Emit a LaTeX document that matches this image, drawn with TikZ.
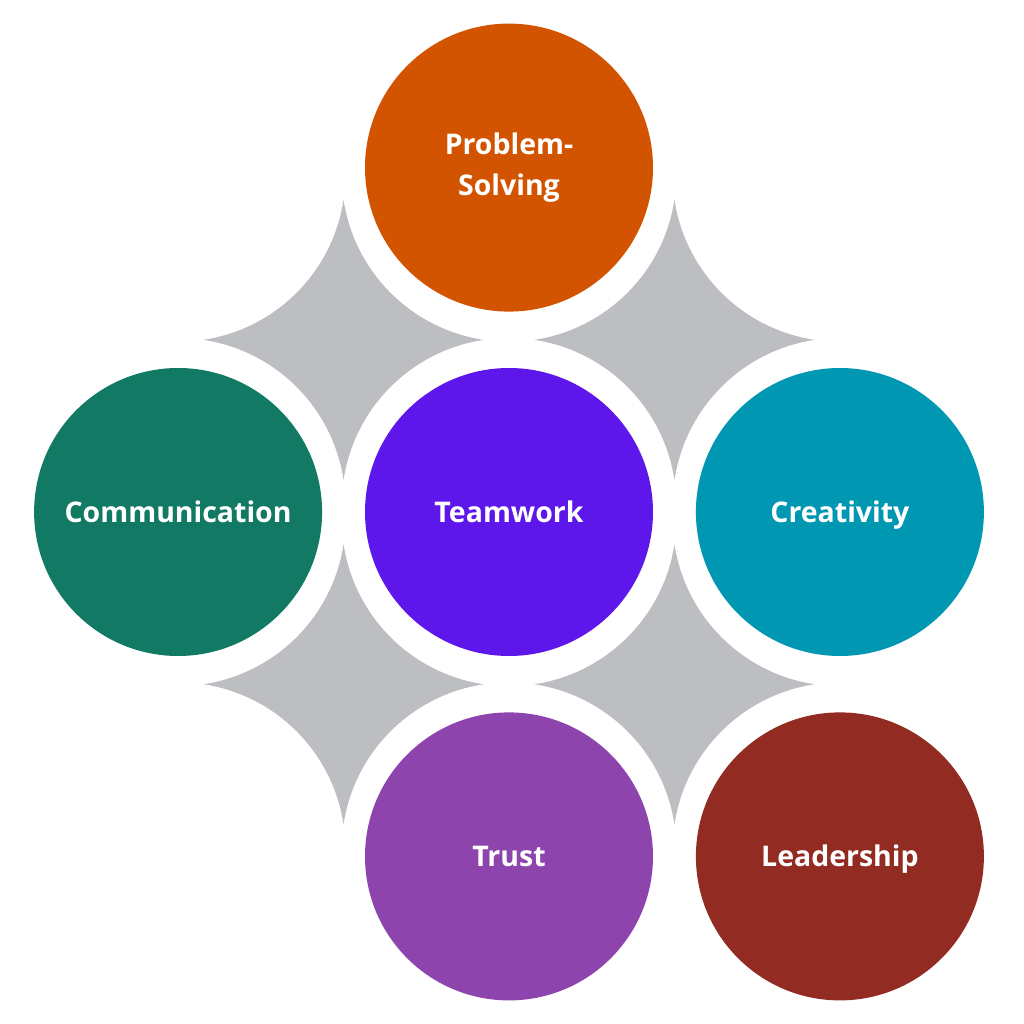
\documentclass[tikz,border=0pt]{standalone}
\usepackage{fontspec}
\setmainfont{Open Sans}
\usetikzlibrary{positioning,calc}

\definecolor{teamcol}{HTML}{5E17EB}
\definecolor{solvecol}{HTML}{D35400}
\definecolor{commcol}{HTML}{127A64}
\definecolor{creatcol}{HTML}{0097B2}
\definecolor{trustcol}{HTML}{8E44AD}
\definecolor{leadcol}{HTML}{922B21}
\definecolor{sparkgray}{HTML}{BDBEC1}

\begin{document}
\begin{tikzpicture}[
  node distance=0.55cm and 0.415cm,
  disc/.style={circle, minimum size=2.88cm, inner sep=0pt, align=center, text=white, font=\fontsize{8.1}{11.4}\selectfont\bfseries},
  oneline/.style={text height=1.55ex, text depth=0.45ex},
  spark/.pic={
    \fill[sparkgray] (0,1.4) arc[start angle=-8.6, end angle=-81.4, radius=1.669]
      arc[start angle=81.4, end angle=8.6, radius=1.669]
      arc[start angle=171.4, end angle=98.6, radius=1.669]
      arc[start angle=261.4, end angle=188.6, radius=1.669] -- cycle;
  }
]
  \fill[white] (0,0) rectangle (10.24,10.24);
  \useasboundingbox (0,0) rectangle (10.24,10.24);

  \node[disc, oneline, fill=teamcol] (team) at (5.09,5.12) {Teamwork};
  \node[disc, fill=solvecol, above=of team] (solve) {Problem-\\Solving};
  \node[disc, oneline, fill=commcol, left=of team] (comm) {Communication};
  \node[disc, oneline, fill=creatcol, right=of team] (creat) {Creativity};
  \node[disc, oneline, fill=trustcol, below=of team] (trust) {Trust};
  \node[disc, oneline, fill=leadcol, below=of creat] (lead) {Leadership};

  % gray sparks between the discs
  \pic at ($(comm)!0.5!(solve)$) {spark};
  \pic at ($(solve)!0.5!(creat)$) {spark};
  \pic at ($(comm)!0.5!(trust)$) {spark};
  \pic at ($(trust)!0.5!(creat)$) {spark};
\end{tikzpicture}
\end{document}
